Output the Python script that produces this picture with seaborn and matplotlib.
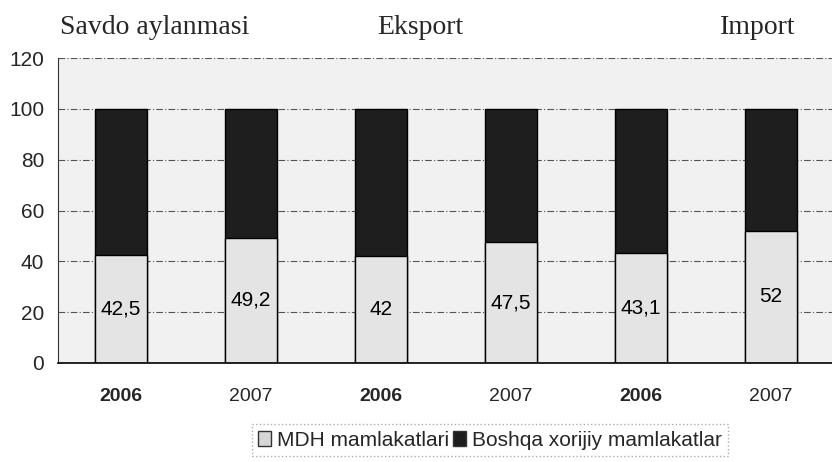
import pandas as pd
import matplotlib.pyplot as plt
import seaborn as sns

# Data
years = ['2006', '2007', '2006', '2007', '2006', '2007']
groups = ['Savdo aylanmasi', 'Eksport', 'Import']
mdh = [42.5, 49.2, 42, 47.5, 43.1, 52]
total = [100, 100, 100, 100, 100, 100]
labels = ['42,5', '49,2', '42', '47,5', '43,1', '52']

df = pd.DataFrame({'pos': [f'{y}_{i}' for i, y in enumerate(years)],
                   'mdh': mdh, 'total': total})

sns.set_style('white')
plt.rcParams['font.family'] = ['Liberation Sans', 'DejaVu Sans']

fig = plt.figure(figsize=(8.32, 4.62), dpi=100)
ax = fig.add_axes([0.0697, 0.2143, 0.935, 0.660])
ax.set_facecolor('#f1f1f1')

sns.barplot(data=df, x='pos', y='total', color='#1e1e1e', width=0.4,
            edgecolor='black', linewidth=1, saturation=1, ax=ax)
sns.barplot(data=df, x='pos', y='mdh', color='#e4e4e4', width=0.4,
            edgecolor='black', linewidth=1, saturation=1, ax=ax)

for i, (v, t) in enumerate(zip(mdh, labels)):
    ax.text(i, v / 2, t, ha='center', va='center', fontsize=15, color='black')

ax.set_ylim(0, 120)
ax.set_xlim(-0.485, 5.5)
ax.set_yticks(range(0, 121, 20))
ax.yaxis.grid(True, color='#555555', linestyle=(0, (6, 2, 1, 2)), linewidth=0.8)
ax.set_axisbelow(True)
ax.set_xlabel('')
ax.set_ylabel('')
ax.set_xticks(range(len(years)))
ax.set_xticklabels(years)
ax.tick_params(axis='y', labelsize=15, length=0, pad=10)
ax.tick_params(axis='x', labelsize=14, length=0, pad=18)
for i, lab in enumerate(ax.get_xticklabels()):
    if i % 2 == 0:
        lab.set_fontweight('bold')

for s in ['top', 'right']:
    ax.spines[s].set_visible(False)
ax.spines['left'].set_color('#333333')
ax.spines['bottom'].set_color('black')
ax.spines['bottom'].set_linewidth(1.2)

# group titles above the plot
for x, g in zip([155, 420, 758], groups):
    fig.text(x / 832, 1 - 27 / 462, g, ha='center', va='center',
             fontsize=20, family='Liberation Serif')

handles = [plt.Rectangle((0, 0), 1, 1, facecolor='#d6d6d6', edgecolor='#333333'),
           plt.Rectangle((0, 0), 1, 1, facecolor='#1e1e1e', edgecolor='#333333')]
leg = fig.legend(handles, ['MDH mamlakatlari', 'Boshqa xorijiy mamlakatlar'],
                 loc='center', bbox_to_anchor=(490 / 832, 1 - 440 / 462), ncol=2,
                 fontsize=15, frameon=True, handlelength=0.6, handleheight=0.7,
                 handletextpad=0.3, columnspacing=0.2, borderpad=0.3,
                 fancybox=False)
leg.get_frame().set_edgecolor('#999999')
leg.get_frame().set_linestyle(':')

fig.savefig('out.png', dpi=100)
